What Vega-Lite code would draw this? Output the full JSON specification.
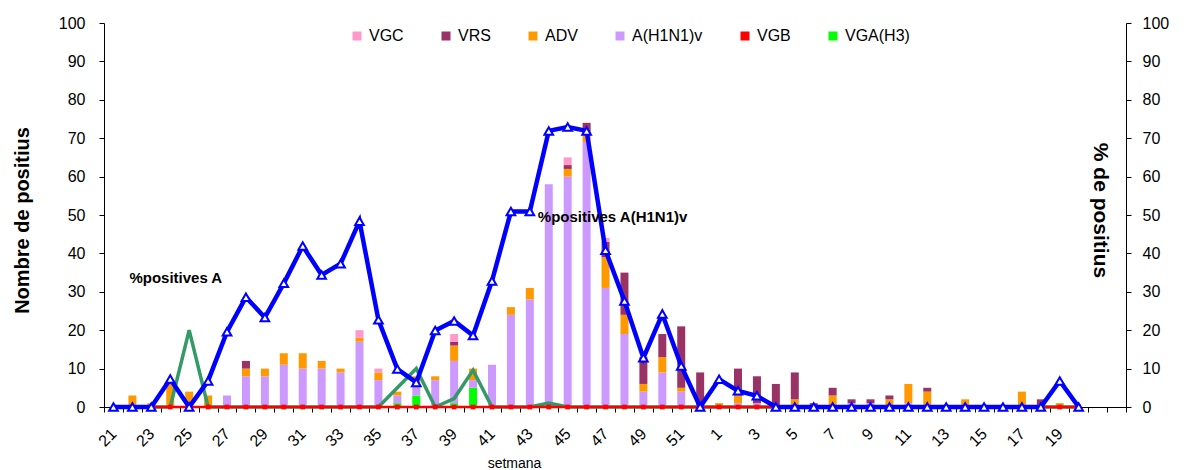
{
  "$schema": "https://vega.github.io/schema/vega-lite/v6.json",
  "width": 1022,
  "height": 384,
  "autosize": {"type": "none"},
  "padding": {"left": 104, "top": 23, "right": 61, "bottom": 63},
  "background": "white",
  "config": {
    "view": {"stroke": null},
    "font": "Liberation Sans",
    "axis": {"grid": false, "domainColor": "#000", "tickColor": "#000", "labelColor": "#000", "titleColor": "#000", "labelFont": "Liberation Sans", "titleFont": "Liberation Sans"},
    "legend": {"labelFont": "Liberation Sans"}
  },
  "datasets": {
    "viruses": [
      {"virus": "VGA(H3)", "rank": 1},
      {"virus": "VGB", "rank": 2},
      {"virus": "A(H1N1)v", "rank": 3},
      {"virus": "ADV", "rank": 4},
      {"virus": "VRS", "rank": 5},
      {"virus": "VGC", "rank": 6}
    ],
    "bars": [
      {"week": "22", "virus": "ADV", "n": 3},
      {"week": "23", "virus": "ADV", "n": 1},
      {"week": "24", "virus": "ADV", "n": 6},
      {"week": "25", "virus": "ADV", "n": 4},
      {"week": "26", "virus": "ADV", "n": 3},
      {"week": "27", "virus": "A(H1N1)v", "n": 3},
      {"week": "28", "virus": "A(H1N1)v", "n": 8},
      {"week": "28", "virus": "ADV", "n": 2},
      {"week": "28", "virus": "VRS", "n": 2},
      {"week": "29", "virus": "A(H1N1)v", "n": 8},
      {"week": "29", "virus": "ADV", "n": 2},
      {"week": "30", "virus": "A(H1N1)v", "n": 11},
      {"week": "30", "virus": "ADV", "n": 3},
      {"week": "31", "virus": "A(H1N1)v", "n": 10},
      {"week": "31", "virus": "ADV", "n": 4},
      {"week": "32", "virus": "A(H1N1)v", "n": 10},
      {"week": "32", "virus": "ADV", "n": 2},
      {"week": "33", "virus": "A(H1N1)v", "n": 9},
      {"week": "33", "virus": "ADV", "n": 1},
      {"week": "34", "virus": "A(H1N1)v", "n": 17},
      {"week": "34", "virus": "ADV", "n": 1},
      {"week": "34", "virus": "VGC", "n": 2},
      {"week": "35", "virus": "A(H1N1)v", "n": 7},
      {"week": "35", "virus": "ADV", "n": 2},
      {"week": "35", "virus": "VGC", "n": 1},
      {"week": "36", "virus": "VGA(H3)", "n": 1},
      {"week": "36", "virus": "A(H1N1)v", "n": 2},
      {"week": "36", "virus": "ADV", "n": 1},
      {"week": "37", "virus": "VGA(H3)", "n": 3},
      {"week": "37", "virus": "A(H1N1)v", "n": 3},
      {"week": "37", "virus": "ADV", "n": 2},
      {"week": "38", "virus": "A(H1N1)v", "n": 7},
      {"week": "38", "virus": "ADV", "n": 1},
      {"week": "39", "virus": "VGA(H3)", "n": 1},
      {"week": "39", "virus": "A(H1N1)v", "n": 11},
      {"week": "39", "virus": "ADV", "n": 4},
      {"week": "39", "virus": "VRS", "n": 1},
      {"week": "39", "virus": "VGC", "n": 2},
      {"week": "40", "virus": "VGA(H3)", "n": 5},
      {"week": "40", "virus": "A(H1N1)v", "n": 2},
      {"week": "40", "virus": "ADV", "n": 3},
      {"week": "41", "virus": "A(H1N1)v", "n": 11},
      {"week": "42", "virus": "A(H1N1)v", "n": 24},
      {"week": "42", "virus": "ADV", "n": 2},
      {"week": "43", "virus": "A(H1N1)v", "n": 28},
      {"week": "43", "virus": "ADV", "n": 3},
      {"week": "44", "virus": "A(H1N1)v", "n": 58},
      {"week": "45", "virus": "A(H1N1)v", "n": 60},
      {"week": "45", "virus": "ADV", "n": 2},
      {"week": "45", "virus": "VRS", "n": 1},
      {"week": "45", "virus": "VGC", "n": 2},
      {"week": "46", "virus": "A(H1N1)v", "n": 69},
      {"week": "46", "virus": "ADV", "n": 2},
      {"week": "46", "virus": "VRS", "n": 3},
      {"week": "47", "virus": "A(H1N1)v", "n": 31},
      {"week": "47", "virus": "ADV", "n": 8},
      {"week": "47", "virus": "VRS", "n": 4},
      {"week": "47", "virus": "VGC", "n": 1},
      {"week": "48", "virus": "A(H1N1)v", "n": 19},
      {"week": "48", "virus": "ADV", "n": 5},
      {"week": "48", "virus": "VRS", "n": 11},
      {"week": "49", "virus": "A(H1N1)v", "n": 4},
      {"week": "49", "virus": "ADV", "n": 2},
      {"week": "49", "virus": "VRS", "n": 7},
      {"week": "50", "virus": "A(H1N1)v", "n": 9},
      {"week": "50", "virus": "ADV", "n": 4},
      {"week": "50", "virus": "VRS", "n": 6},
      {"week": "51", "virus": "A(H1N1)v", "n": 4},
      {"week": "51", "virus": "ADV", "n": 1},
      {"week": "51", "virus": "VRS", "n": 16},
      {"week": "52", "virus": "VRS", "n": 9},
      {"week": "1", "virus": "ADV", "n": 1},
      {"week": "2", "virus": "A(H1N1)v", "n": 1},
      {"week": "2", "virus": "ADV", "n": 2},
      {"week": "2", "virus": "VRS", "n": 7},
      {"week": "3", "virus": "A(H1N1)v", "n": 1},
      {"week": "3", "virus": "VRS", "n": 7},
      {"week": "4", "virus": "VRS", "n": 6},
      {"week": "5", "virus": "ADV", "n": 2},
      {"week": "5", "virus": "VRS", "n": 7},
      {"week": "6", "virus": "VRS", "n": 1},
      {"week": "7", "virus": "ADV", "n": 3},
      {"week": "7", "virus": "VRS", "n": 2},
      {"week": "8", "virus": "A(H1N1)v", "n": 1},
      {"week": "8", "virus": "VRS", "n": 1},
      {"week": "9", "virus": "A(H1N1)v", "n": 1},
      {"week": "9", "virus": "VRS", "n": 1},
      {"week": "10", "virus": "ADV", "n": 2},
      {"week": "10", "virus": "VRS", "n": 1},
      {"week": "11", "virus": "A(H1N1)v", "n": 1},
      {"week": "11", "virus": "ADV", "n": 5},
      {"week": "12", "virus": "ADV", "n": 4},
      {"week": "12", "virus": "VRS", "n": 1},
      {"week": "14", "virus": "ADV", "n": 2},
      {"week": "17", "virus": "ADV", "n": 4},
      {"week": "18", "virus": "VRS", "n": 2},
      {"week": "19", "virus": "ADV", "n": 1}
    ],
    "h1n1": [
      {"week": "21", "pct": 0}, {"week": "22", "pct": 0}, {"week": "23", "pct": 0}, {"week": "24", "pct": 7.3},
      {"week": "25", "pct": 0}, {"week": "26", "pct": 6.8}, {"week": "27", "pct": 19.6}, {"week": "28", "pct": 28.6},
      {"week": "29", "pct": 23.3}, {"week": "30", "pct": 32.2}, {"week": "31", "pct": 41.9}, {"week": "32", "pct": 34.4},
      {"week": "33", "pct": 37.3}, {"week": "34", "pct": 48.4}, {"week": "35", "pct": 22.7}, {"week": "36", "pct": 9.9},
      {"week": "37", "pct": 6.4}, {"week": "38", "pct": 19.9}, {"week": "39", "pct": 22.4}, {"week": "40", "pct": 18.6},
      {"week": "41", "pct": 32.8}, {"week": "42", "pct": 50.9}, {"week": "43", "pct": 50.9}, {"week": "44", "pct": 71.9},
      {"week": "45", "pct": 72.9}, {"week": "46", "pct": 71.9}, {"week": "47", "pct": 40.8}, {"week": "48", "pct": 27.6},
      {"week": "49", "pct": 12.8}, {"week": "50", "pct": 24.2}, {"week": "51", "pct": 10.7}, {"week": "52", "pct": 0},
      {"week": "1", "pct": 7.2}, {"week": "2", "pct": 4.2}, {"week": "3", "pct": 2.9}, {"week": "4", "pct": 0},
      {"week": "5", "pct": 0}, {"week": "6", "pct": 0}, {"week": "7", "pct": 0}, {"week": "8", "pct": 0},
      {"week": "9", "pct": 0}, {"week": "10", "pct": 0}, {"week": "11", "pct": 0}, {"week": "12", "pct": 0},
      {"week": "13", "pct": 0}, {"week": "14", "pct": 0}, {"week": "15", "pct": 0}, {"week": "16", "pct": 0},
      {"week": "17", "pct": 0}, {"week": "18", "pct": 0}, {"week": "19", "pct": 6.8}, {"week": "20", "pct": 0}
    ],
    "pctA": [
      {"week": "23", "pct": 0}, {"week": "24", "pct": 0}, {"week": "25", "pct": 20}, {"week": "26", "pct": 0},
      {"week": "27", "pct": 0}, {"week": "28", "pct": 0}, {"week": "29", "pct": 0}, {"week": "30", "pct": 0},
      {"week": "31", "pct": 0}, {"week": "32", "pct": 0}, {"week": "33", "pct": 0}, {"week": "34", "pct": 0},
      {"week": "35", "pct": 0}, {"week": "36", "pct": 5}, {"week": "37", "pct": 10}, {"week": "38", "pct": 0},
      {"week": "39", "pct": 2.2}, {"week": "40", "pct": 9.6}, {"week": "41", "pct": 0}, {"week": "42", "pct": 0},
      {"week": "43", "pct": 0}, {"week": "44", "pct": 1}, {"week": "45", "pct": 0}, {"week": "46", "pct": 0},
      {"week": "47", "pct": 0}, {"week": "48", "pct": 0}, {"week": "49", "pct": 0}, {"week": "50", "pct": 0},
      {"week": "51", "pct": 0}, {"week": "52", "pct": 0}, {"week": "1", "pct": 0}, {"week": "2", "pct": 0},
      {"week": "3", "pct": 0}, {"week": "4", "pct": 0}, {"week": "5", "pct": 0}, {"week": "6", "pct": 0},
      {"week": "7", "pct": 0}, {"week": "8", "pct": 0}, {"week": "9", "pct": 0}, {"week": "10", "pct": 0},
      {"week": "11", "pct": 0}, {"week": "12", "pct": 0}, {"week": "13", "pct": 0}, {"week": "14", "pct": 0},
      {"week": "15", "pct": 0}, {"week": "16", "pct": 0}, {"week": "17", "pct": 0}, {"week": "18", "pct": 0},
      {"week": "19", "pct": 0}, {"week": "20", "pct": 0}
    ],
    "pctB": [
      {"week": "23", "pct": 0}, {"week": "24", "pct": 0}, {"week": "25", "pct": 0}, {"week": "26", "pct": 0},
      {"week": "27", "pct": 0}, {"week": "28", "pct": 0}, {"week": "29", "pct": 0}, {"week": "30", "pct": 0},
      {"week": "31", "pct": 0}, {"week": "32", "pct": 0}, {"week": "33", "pct": 0}, {"week": "34", "pct": 0},
      {"week": "35", "pct": 0}, {"week": "36", "pct": 0}, {"week": "37", "pct": 0}, {"week": "38", "pct": 0},
      {"week": "39", "pct": 0}, {"week": "40", "pct": 0}, {"week": "41", "pct": 0}, {"week": "42", "pct": 0},
      {"week": "43", "pct": 0}, {"week": "44", "pct": 0}, {"week": "45", "pct": 0}, {"week": "46", "pct": 0},
      {"week": "47", "pct": 0}, {"week": "48", "pct": 0}, {"week": "49", "pct": 0}, {"week": "50", "pct": 0},
      {"week": "51", "pct": 0}, {"week": "52", "pct": 0}, {"week": "1", "pct": 0}, {"week": "2", "pct": 0},
      {"week": "3", "pct": 0}, {"week": "4", "pct": 0}, {"week": "5", "pct": 0}, {"week": "6", "pct": 0},
      {"week": "7", "pct": 0}, {"week": "8", "pct": 0}, {"week": "9", "pct": 0}, {"week": "10", "pct": 0},
      {"week": "11", "pct": 0}, {"week": "12", "pct": 0}, {"week": "13", "pct": 0}, {"week": "14", "pct": 0},
      {"week": "15", "pct": 0}, {"week": "16", "pct": 0}, {"week": "17", "pct": 0}, {"week": "18", "pct": 0},
      {"week": "19", "pct": 0}, {"week": "20", "pct": 0}
    ],
    "notesA": [{"week": "22", "pct": 33.6, "label": "%positives A"}],
    "notesH": [{"week": "43", "pct": 49.5, "label": "%positives A(H1N1)v"}]
  },
  "encoding": {
    "x": {
      "field": "week",
      "type": "nominal",
      "scale": {
        "domain": ["21","22","23","24","25","26","27","28","29","30","31","32","33","34","35","36","37","38","39","40","41","42","43","44","45","46","47","48","49","50","51","52","1","2","3","4","5","6","7","8","9","10","11","12","13","14","15","16","17","18","19","20","e1","e2"],
        "paddingInner": 0,
        "paddingOuter": 0
      },
      "axis": {
        "title": "setmana",
        "titleFontSize": 14,
        "titleFontWeight": "normal",
        "titleX": 410,
        "titleY": 56,
        "titleAlign": "center",
        "titleBaseline": "middle",
        "labelAngle": -45,
        "labelAlign": "right",
        "labelBaseline": "middle",
        "labelFontSize": 16,
        "labelPadding": 19,
        "labelOverlap": false,
        "tickBand": "extent",
        "tickSize": 5,
        "labelExpr": "indexof(['21','23','25','27','29','31','33','35','37','39','41','43','45','47','49','51','1','3','5','7','9','11','13','15','17','19'], datum.value) >= 0 ? datum.value : ''"
      }
    }
  },
  "layer": [
    {
      "data": {"name": "bars"},
      "transform": [
        {"lookup": "virus", "from": {"data": {"name": "viruses"}, "key": "virus", "fields": ["rank"]}}
      ],
      "mark": {"type": "bar", "width": 8},
      "encoding": {
        "y": {
          "field": "n",
          "type": "quantitative",
          "stack": "zero",
          "scale": {"domain": [0, 100]},
          "axis": {
            "orient": "left",
            "values": [0,10,20,30,40,50,60,70,80,90,100],
            "title": "Nombre de positius",
            "titleFontSize": 20,
            "titleFontWeight": "bold",
            "titleAngle": -90,
            "titleX": -82,
            "titleY": 197,
            "titleAlign": "center",
            "titleBaseline": "middle",
            "labelFontSize": 16,
            "labelPadding": 14,
            "tickSize": 5
          }
        },
        "color": {
          "field": "virus",
          "type": "nominal",
          "scale": {
            "domain": ["VGC", "VRS", "ADV", "A(H1N1)v", "VGB", "VGA(H3)"],
            "range": ["#FF99CC", "#993366", "#FF9900", "#CC99FF", "#FF0000", "#00FF00"]
          },
          "legend": {
            "orient": "none",
            "legendX": 245,
            "legendY": 5,
            "direction": "horizontal",
            "columns": 6,
            "title": null,
            "symbolType": "square",
            "symbolSize": 81,
            "symbolStrokeWidth": 0,
            "labelFontSize": 16,
            "labelOffset": 4,
            "columnPadding": 34,
            "padding": 0
          }
        },
        "order": {"field": "rank", "type": "quantitative"}
      }
    },
    {
      "encoding": {
        "y": {
          "field": "pct",
          "type": "quantitative",
          "scale": {"domain": [0, 100]},
          "axis": {
            "orient": "right",
            "values": [0,10,20,30,40,50,60,70,80,90,100],
            "title": "% de positius",
            "titleFontSize": 21,
            "titleFontWeight": "bold",
            "titleAngle": 90,
            "titleX": -27,
            "titleY": 187,
            "titleAlign": "center",
            "titleBaseline": "middle",
            "labelFontSize": 16,
            "labelPadding": 11,
            "tickSize": 5
          }
        }
      },
      "layer": [
        {"data": {"name": "pctA"}, "mark": {"type": "line", "color": "#339966", "strokeWidth": 3.5}},
        {"data": {"name": "pctB"}, "mark": {"type": "line", "color": "#FF0000", "strokeWidth": 2.5}},
        {"data": {"name": "pctB"}, "mark": {"type": "point", "shape": "square", "filled": true, "color": "#FF0000", "size": 22, "opacity": 1}},
        {"data": {"name": "h1n1"}, "mark": {"type": "line", "color": "#0000FF", "strokeWidth": 4.5}},
        {"data": {"name": "h1n1"}, "mark": {"type": "point", "shape": "triangle-up", "filled": true, "fill": "white", "stroke": "#0000FF", "strokeWidth": 2, "size": 75, "opacity": 1}},
        {"data": {"name": "notesA"}, "mark": {"type": "text", "align": "left", "baseline": "middle", "dx": -3, "font": "Liberation Sans", "fontSize": 15, "fontWeight": "bold", "color": "#000"}, "encoding": {"text": {"field": "label"}}},
        {"data": {"name": "notesH"}, "mark": {"type": "text", "align": "left", "baseline": "middle", "dx": 8, "font": "Liberation Sans", "fontSize": 15, "fontWeight": "bold", "color": "#000"}, "encoding": {"text": {"field": "label"}}}
      ]
    }
  ],
  "resolve": {"scale": {"y": "independent"}}
}
